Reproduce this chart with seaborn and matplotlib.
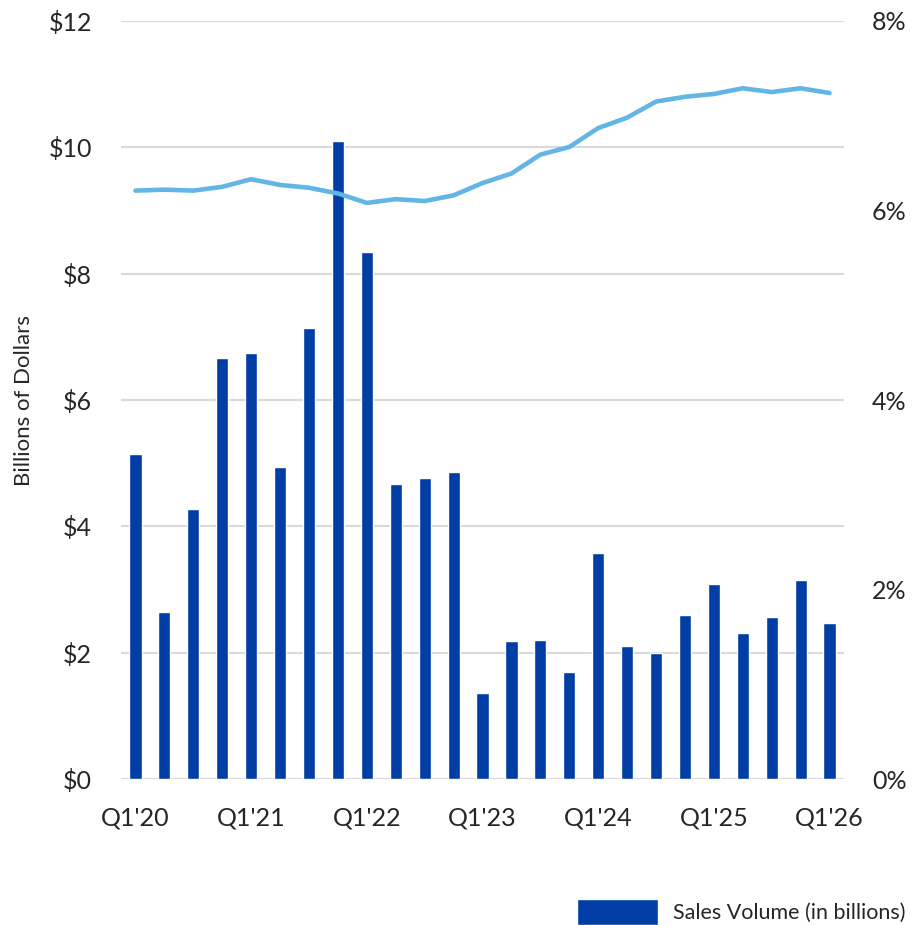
import pandas as pd
import matplotlib.pyplot as plt
import seaborn as sns

quarters = [f"Q{q}'{y}" for y in range(20, 26) for q in range(1, 5)] + ["Q1'26"]
sales = [5.15, 2.65, 4.27, 6.67, 6.75, 4.94, 7.14, 10.1, 8.35, 4.67, 4.77, 4.86,
         1.36, 2.18, 2.2, 1.7, 3.58, 2.11, 2.0, 2.6, 3.08, 2.31, 2.56, 3.15, 2.47]
cap_rate = [6.21, 6.22, 6.21, 6.25, 6.33, 6.27, 6.24, 6.18, 6.08, 6.12, 6.10, 6.16,
            6.29, 6.39, 6.59, 6.67, 6.87, 6.98, 7.15, 7.20, 7.23, 7.29, 7.25, 7.29, 7.24]

df = pd.DataFrame({'quarter': quarters, 'sales': sales, 'rate': cap_rate})
df['pos'] = range(len(df))

sns.set_theme(style='white')
plt.rcParams['font.family'] = ['Lato', 'DejaVu Sans']
txt = '#262626'

fig = plt.figure(figsize=(9.19, 9.25), dpi=100)
ax = fig.add_axes([0.1317, 0.1578, 0.7867, 0.8195])
ax2 = ax.twinx()

sns.barplot(x='pos', y='sales', data=df, color='#003DA5', width=0.42, ax=ax,
            saturation=1, label='Sales Volume (in billions)', zorder=3)
sns.lineplot(x='pos', y='rate', data=df, color='#62B5E5', linewidth=3.3, ax=ax2)

ax.set_xlim(-0.5, 24.5)
ax.set_ylim(0, 12)
ax.set_yticks(range(0, 13, 2))
ax.set_yticklabels([f'${v}' for v in range(0, 13, 2)])
ax2.set_ylim(0, 8)
ax2.set_yticks(range(0, 9, 2))
ax2.set_yticklabels([f'{v}%' for v in range(0, 9, 2)])
ax.set_xticks(range(0, 25, 4))
ax.set_xticklabels([quarters[i] for i in range(0, 25, 4)])

ax.grid(axis='y', color='#d9d9d9', linewidth=1.5, zorder=0)
ax.set_axisbelow(True)
for a in (ax, ax2):
    for s in a.spines.values():
        s.set_visible(False)
    a.tick_params(length=0, labelsize=18, labelcolor=txt)
    a.set_xlabel('')
    a.set_ylabel('')
ax.tick_params(axis='y', pad=21)
ax.tick_params(axis='x', pad=20)
ax2.tick_params(axis='y', pad=20)
ax.set_ylabel('Billions of Dollars', fontsize=16, color=txt)
ax.yaxis.set_label_coords(-0.12, 0.5)
if ax.get_legend():
    ax.get_legend().remove()

handles, labels = ax.get_legend_handles_labels()
fig.legend(handles[:1], labels[:1], loc='upper left', bbox_to_anchor=(0.628, 0.028),
           frameon=False, fontsize=15.5, handlelength=3.75, handleheight=1.45,
           handletextpad=0.7, labelcolor=txt, borderaxespad=0, borderpad=0)

fig.savefig('out.png', dpi=100)
